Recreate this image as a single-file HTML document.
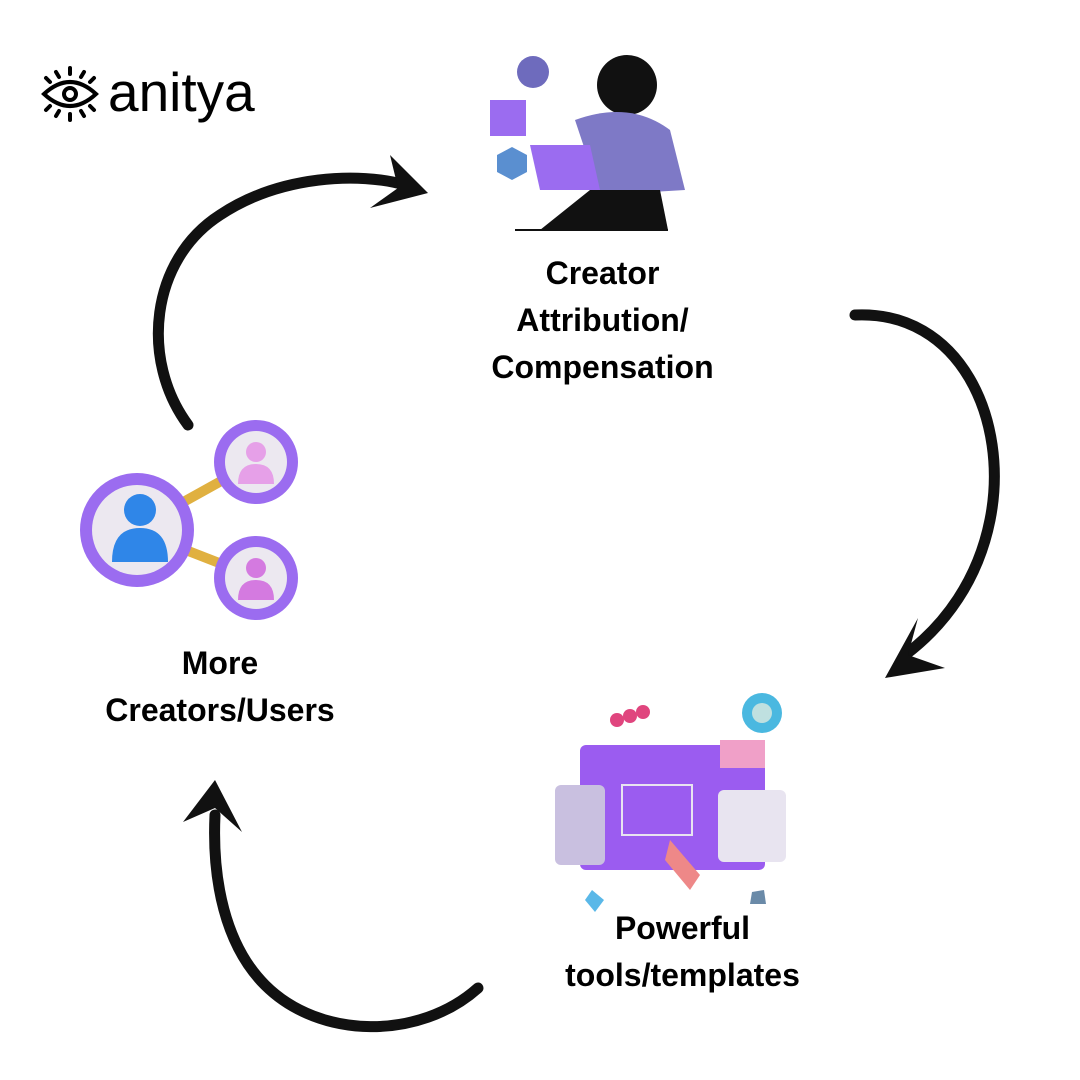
<!DOCTYPE html>
<html><head><meta charset="utf-8"><style>
body{margin:0;width:1080px;height:1080px;background:#fff;overflow:hidden;position:relative;font-family:"Liberation Sans",sans-serif}
.t{position:absolute;font-weight:bold;font-size:32px;color:#000;text-align:center;line-height:47px}
</style></head><body>
<svg width="1080" height="1080" style="position:absolute;left:0;top:0">
<g stroke="#000" stroke-width="4" fill="none" stroke-linecap="round">
<path d="M44 94 Q70 70 96 94 Q70 118 44 94Z"/>
<circle cx="70" cy="94" r="6"/>
<line x1="70" y1="68" x2="70" y2="74"/><line x1="56" y1="72" x2="59" y2="77"/><line x1="84" y1="72" x2="81" y2="77"/>
<line x1="46" y1="78" x2="50" y2="82"/><line x1="94" y1="78" x2="90" y2="82"/>
<line x1="70" y1="114" x2="70" y2="120"/><line x1="56" y1="116" x2="59" y2="111"/><line x1="84" y1="116" x2="81" y2="111"/>
<line x1="46" y1="110" x2="50" y2="106"/><line x1="94" y1="110" x2="90" y2="106"/>
</g>
<g fill="none" stroke="#111" stroke-linecap="round">
<path d="M188 425 C140 360 150 260 220 215 C280 175 360 172 405 185" stroke-width="11"/>
<path d="M855 315 C960 310 1010 420 990 520 C978 580 945 625 905 655" stroke-width="11"/>
<path d="M478 988 C420 1040 320 1040 265 985 C225 945 212 880 215 815" stroke-width="11"/>
</g>
<g fill="#111">
<polygon points="390,155 428,193 370,208 398,188"/>
<polygon points="918,618 885,678 945,668 908,655"/>
<polygon points="215,780 183,822 215,808 242,832"/>
</g>
<line x1="160" y1="515" x2="250" y2="465" stroke="#e0b040" stroke-width="10"/>
<line x1="160" y1="540" x2="250" y2="575" stroke="#e0b040" stroke-width="10"/>
<circle cx="137" cy="530" r="57" fill="#9b6cf0"/><circle cx="137" cy="530" r="45" fill="#ece8f0"/>
<circle cx="140" cy="510" r="16" fill="#2f86e8"/><path d="M112 562 Q112 528 140 528 Q168 528 168 562Z" fill="#2f86e8"/>
<circle cx="256" cy="462" r="42" fill="#9b6cf0"/><circle cx="256" cy="462" r="31" fill="#ece8f0"/>
<circle cx="256" cy="452" r="10" fill="#e6a0e8"/><path d="M238 484 Q238 464 256 464 Q274 464 274 484Z" fill="#e6a0e8"/>
<circle cx="256" cy="578" r="42" fill="#9b6cf0"/><circle cx="256" cy="578" r="31" fill="#ece8f0"/>
<circle cx="256" cy="568" r="10" fill="#d47ae0"/><path d="M238 600 Q238 580 256 580 Q274 580 274 600Z" fill="#d47ae0"/>
<circle cx="533" cy="72" r="16" fill="#6e6bbd"/>
<rect x="490" y="100" width="36" height="36" fill="#9b6cf0"/>
<polygon points="497,155 512,147 527,155 527,172 512,180 497,172" fill="#5a8fd0"/>
<circle cx="627" cy="85" r="30" fill="#111"/>
<path d="M575 120 Q630 100 670 130 L685 190 L600 195Z" fill="#7e79c6"/>
<polygon points="530,145 590,145 600,190 540,190" fill="#9b6cf0"/>
<path d="M540 230 L590 190 L660 190 L668 230Z" fill="#111"/>
<line x1="515" y1="230" x2="668" y2="230" stroke="#111" stroke-width="2"/>
<circle cx="617" cy="720" r="7" fill="#e0457e"/><circle cx="630" cy="716" r="7" fill="#e0457e"/><circle cx="643" cy="712" r="7" fill="#e0457e"/>
<circle cx="762" cy="713" r="20" fill="#4ab8e0"/><circle cx="762" cy="713" r="10" fill="#bfe0e0"/>
<rect x="580" y="745" width="185" height="125" rx="6" fill="#9b5cf0"/>
<rect x="555" y="785" width="50" height="80" rx="6" fill="#c9c0e0"/>
<rect x="718" y="790" width="68" height="72" rx="6" fill="#e8e4f0"/>
<rect x="720" y="740" width="45" height="28" fill="#f0a0c8"/>
<rect x="622" y="785" width="70" height="50" fill="none" stroke="#e8e4f0" stroke-width="2"/>
<polygon points="670,840 700,875 690,890 665,860" fill="#e88"/>
<polygon points="592,890 604,900 595,912 585,900" fill="#5ab8e8"/>
<polygon points="752,892 764,890 766,904 750,904" fill="#6a8aa8"/>
</svg>
<div style="position:absolute;left:108px;top:60px;font-size:55px;line-height:64px;color:#000">anitya</div>
<div class="t" style="left:400px;top:250px;width:405px">Creator<br>Attribution/<br>Compensation</div>
<div class="t" style="left:20px;top:640px;width:400px">More<br>Creators/Users</div>
<div class="t" style="left:480px;top:905px;width:405px">Powerful<br>tools/templates</div>
</body></html>
